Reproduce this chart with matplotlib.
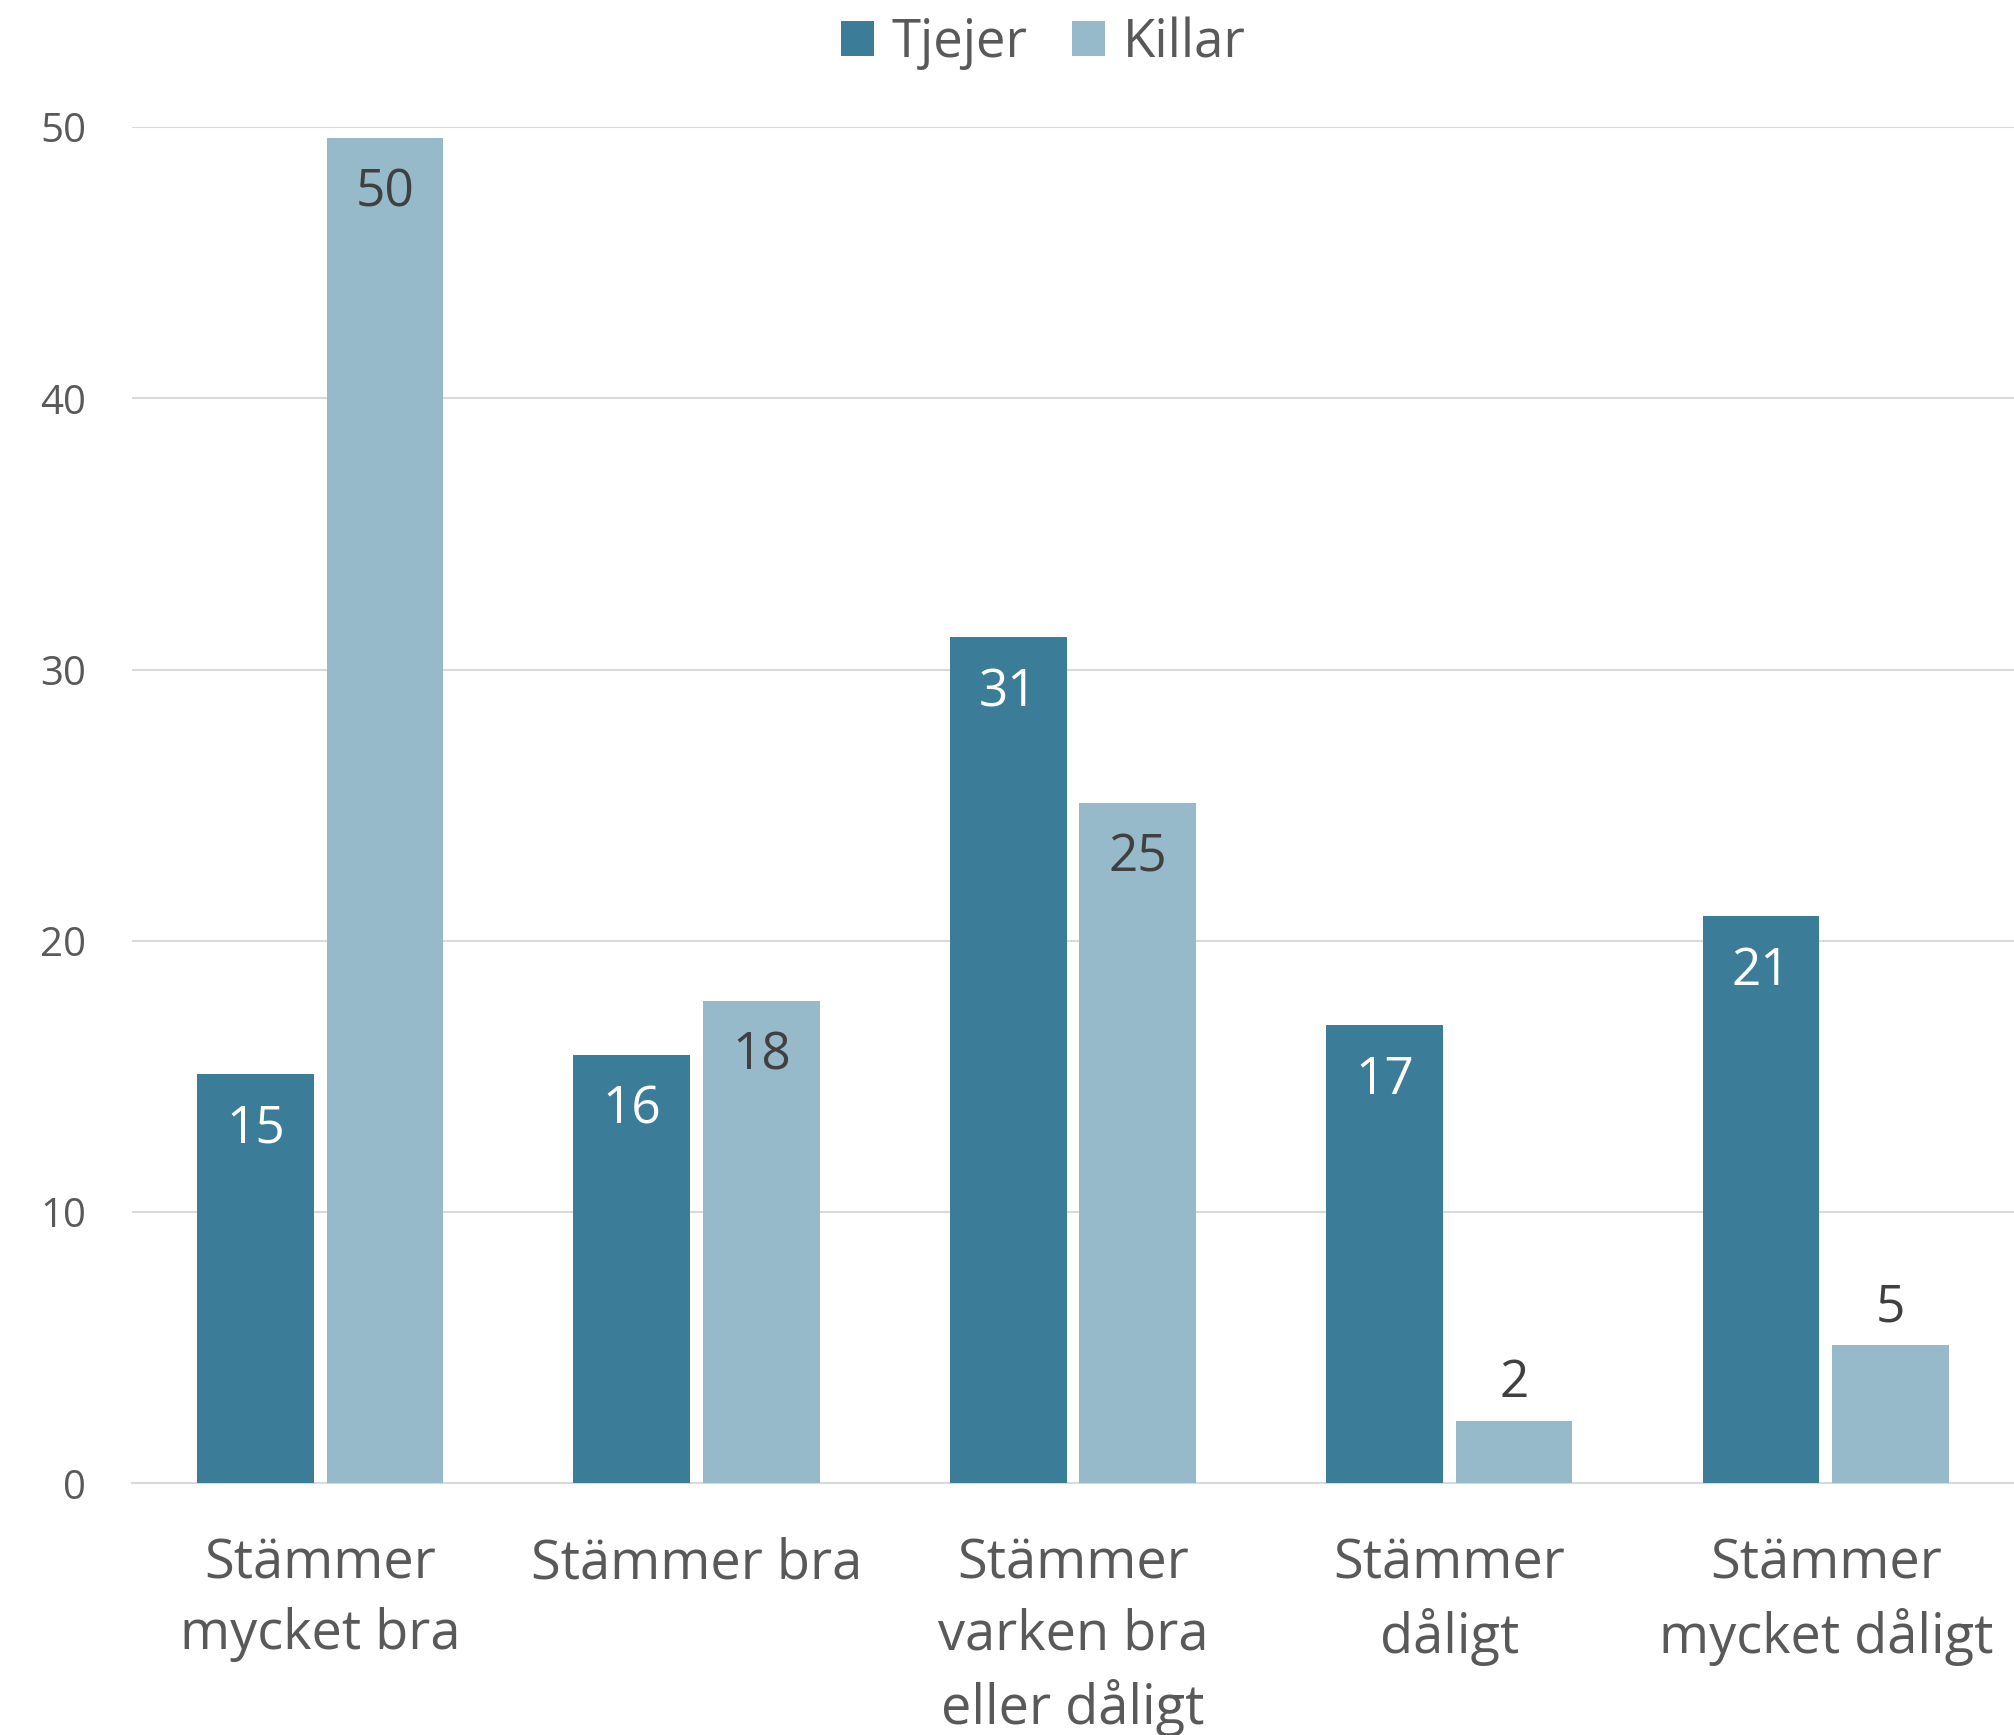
import matplotlib
matplotlib.use("Agg")
import matplotlib.pyplot as plt
import numpy as np

categories = ["Stämmer\nmycket bra", "Stämmer bra", "Stämmer\nvarken bra\neller dåligt",
              "Stämmer\ndåligt", "Stämmer\nmycket dåligt"]
tjejer = [15.1, 15.8, 31.2, 16.9, 20.9]
killar = [49.6, 17.8, 25.1, 2.3, 5.1]
series_names = ["Tjejer", "Killar"]
yticks = [0, 10, 20, 30, 40, 50]

plt.rcParams['font.family'] = ['Open Sans', 'DejaVu Sans']

C_DARK = "#3B7D99"
C_LIGHT = "#97BACA"
GRID = "#D9D9D9"
TXT = "#595959"

fig = plt.figure(figsize=(20.14, 17.35), dpi=100)
ax = fig.add_axes([0.0655, 0.145, 0.9345, 0.7818])

x = np.arange(len(categories))
w = 0.31
off = 0.172
b1 = ax.bar(x - off, tjejer, w, color=C_DARK, label=series_names[0], zorder=3)
b2 = ax.bar(x + off, killar, w, color=C_LIGHT, label=series_names[1], zorder=3)

ax.set_xlim(-0.5, len(categories) - 0.5)
ax.set_ylim(0, 50)
ax.set_yticks(yticks)
ax.set_yticklabels([str(t) for t in yticks])
ax.yaxis.grid(True, color=GRID, linewidth=1.5, zorder=0)
ax.set_axisbelow(True)
for s in ["top", "right", "left"]:
    ax.spines[s].set_visible(False)
ax.spines["bottom"].set_color(GRID)
ax.spines["bottom"].set_linewidth(1.5)
ax.tick_params(axis='y', length=0, pad=33, labelsize=29, labelcolor=TXT)
ax.tick_params(axis='x', length=0, pad=38, labelsize=39, labelcolor=TXT)
ax.set_xticks(x)
ax.set_xticklabels(categories, linespacing=1.38)

for bars, vals, incol in [(b1, tjejer, "white"), (b2, killar, "#404040")]:
    for rect, v in zip(bars, vals):
        cx = rect.get_x() + rect.get_width() / 2
        if v >= 8:
            ax.annotate(f"{round(v):d}", (cx, v), xytext=(0, -40), textcoords="offset points",
                        ha="center", va="center", fontsize=37, color=incol, zorder=4)
        else:
            ax.annotate(f"{round(v):d}", (cx, v), xytext=(0, 27), textcoords="offset points",
                        ha="center", va="center", fontsize=37, color="#404040", zorder=4)

leg = fig.legend(loc="center", bbox_to_anchor=(0.518, 0.975), ncol=2, frameon=False,
                 fontsize=38, handlelength=0.63, handleheight=0.63, handletextpad=0.32,
                 columnspacing=0.85, labelcolor=TXT)

fig.savefig("out.png", dpi=100)
